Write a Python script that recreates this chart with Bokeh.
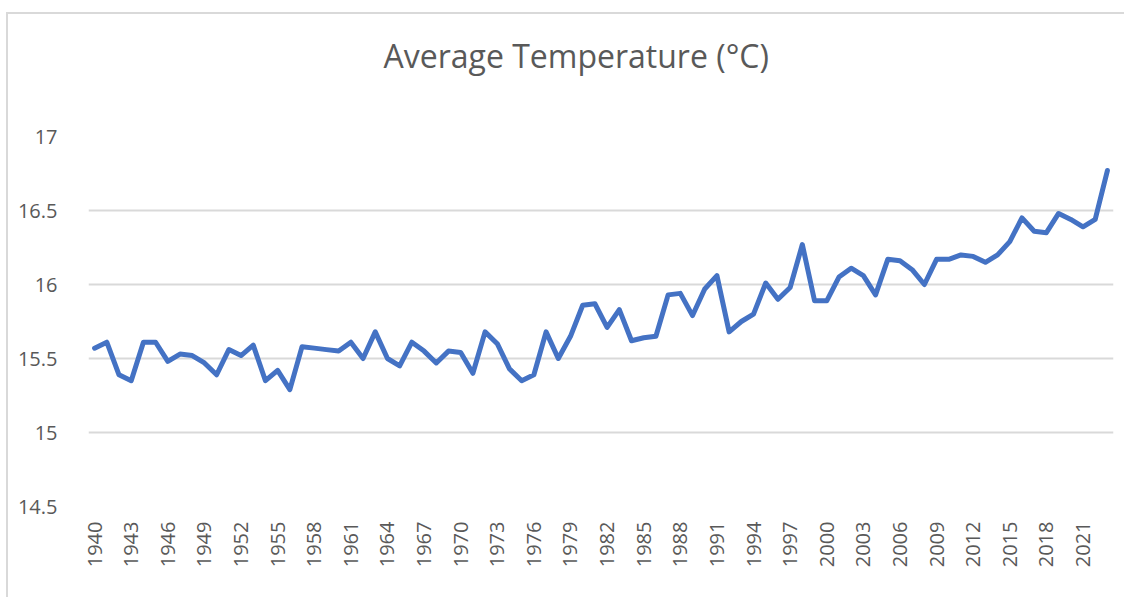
from bokeh.plotting import figure
from bokeh.models import FixedTicker, Range1d, InlineStyleSheet, Title
from bokeh.embed import file_html
from bokeh.resources import INLINE

years = list(range(1940, 2024))
temps = [
    15.57, 15.61, 15.39, 15.35, 15.61, 15.61, 15.48, 15.53, 15.52, 15.47,
    15.39, 15.56, 15.52, 15.59, 15.35, 15.42, 15.29, 15.58, 15.57, 15.56,
    15.55, 15.61, 15.50, 15.68, 15.50, 15.45, 15.61, 15.55, 15.47, 15.55,
    15.54, 15.40, 15.68, 15.60, 15.43, 15.35, 15.39, 15.68, 15.50, 15.65,
    15.86, 15.87, 15.71, 15.83, 15.62, 15.64, 15.65, 15.93, 15.94, 15.79,
    15.97, 16.06, 15.68, 15.75, 15.80, 16.01, 15.90, 15.98, 16.27, 15.89,
    15.89, 16.05, 16.11, 16.06, 15.93, 16.17, 16.16, 16.10, 16.00, 16.17,
    16.17, 16.20, 16.19, 16.15, 16.20, 16.29, 16.45, 16.36, 16.35, 16.48,
    16.44, 16.39, 16.44, 16.77,
]
x_tick_years = list(range(1940, 2022, 3))
y_ticks = [14.5, 15, 15.5, 16, 16.5, 17]
y_tick_labels = ["14.5", "15", "15.5", "16", "16.5", "17"]
title_text = "Average Temperature (°C)"

FONT = "Open Sans"
GRAY = "#595959"

p = figure(width=1124, height=597, output_backend="svg", toolbar_location=None,
           x_range=Range1d(1939.5, 2023.5), y_range=Range1d(14.5, 17),
           min_border_left=88, min_border_right=11, min_border_top=136, min_border_bottom=91)
p.title = None
p.outline_line_color = None
p.background_fill_color = "white"
p.border_fill_color = "white"

# spacer between the frame and the title (inner), then the title (outer)
spacer = Title(text=" ", text_font_size="1px", standoff=57, text_color="white")
p.add_layout(spacer, "above")
main_title = Title(text=title_text, align="left", vertical_align="bottom", text_font=FONT,
                   text_font_size="32px", text_font_style="normal", text_color=GRAY,
                   standoff=0, offset=295)
p.add_layout(main_title, "above")

p.stylesheets = [InlineStyleSheet(css=(
    ":host::after { content: ''; position: absolute; left: 6px; top: 12px; right: 0; bottom: 0;"
    " border-left: 2px solid #d9d9d9; border-top: 2px solid #d9d9d9; pointer-events: none; }"
))]

p.line(years, temps, line_color="#4472C4", line_width=5, line_join="round", line_cap="round")

# axes
p.xaxis.ticker = FixedTicker(ticks=x_tick_years)
p.xaxis.major_label_orientation = 1.5707963
p.xaxis.major_label_text_font = FONT
p.xaxis.major_label_text_font_size = "20px"
p.xaxis.major_label_text_color = GRAY
p.xaxis.major_label_standoff = 9
p.xaxis.axis_line_color = None
p.xaxis.major_tick_line_color = None
p.xaxis.minor_tick_line_color = None

p.yaxis.ticker = FixedTicker(ticks=y_ticks)
p.yaxis.major_label_overrides = {t: l for t, l in zip(y_ticks, y_tick_labels)}
p.yaxis.major_label_text_font = FONT
p.yaxis.major_label_text_font_size = "20px"
p.yaxis.major_label_text_color = GRAY
p.yaxis.major_label_standoff = 25
p.yaxis.axis_line_color = None
p.yaxis.major_tick_line_color = None
p.yaxis.minor_tick_line_color = None

p.xgrid.grid_line_color = None
p.ygrid.grid_line_color = "#d9d9d9"
p.ygrid.grid_line_width = 2

open("out.html", "w").write(file_html(p, INLINE))
